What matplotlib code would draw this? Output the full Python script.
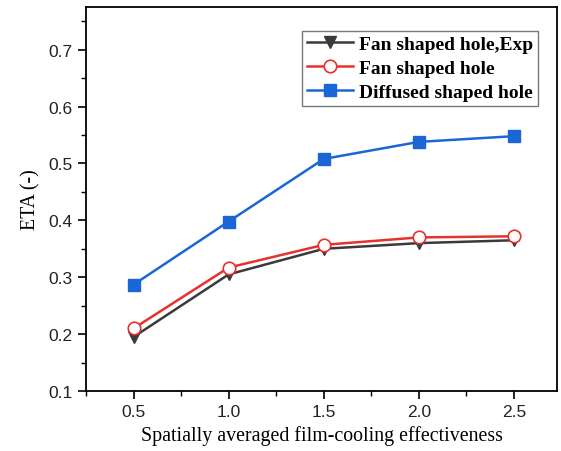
import matplotlib
matplotlib.use("Agg")
import matplotlib.pyplot as plt
from matplotlib.ticker import MultipleLocator

x = [0.5, 1.0, 1.5, 2.0, 2.5]
fan_exp = [0.195, 0.305, 0.350, 0.360, 0.365]
fan = [0.210, 0.317, 0.357, 0.370, 0.372]
diffused = [0.287, 0.398, 0.508, 0.538, 0.548]
labels = ["Fan shaped hole,Exp", "Fan shaped hole", "Diffused shaped hole"]

fig = plt.figure(figsize=(5.61, 4.52), dpi=100)
ax = fig.add_axes([86/561, 1-392/452, (557-86)/561, (392-7.5)/452])

ax.plot(x, fan_exp, color="#3a3a3a", lw=1.8, marker="v", ms=9, mfc="#3a3a3a", mec="#3a3a3a", label=labels[0], zorder=3)
ax.plot(x, fan, color="#e8312f", lw=1.8, marker="o", ms=9, mfc="white", mec="#e8312f", mew=1.2, label=labels[1], zorder=4)
ax.plot(x, diffused, color="#1a66d6", lw=1.8, marker="s", ms=8, mfc="#1a66d6", mec="#1a66d6", label=labels[2], zorder=3)

ax.set_xlim(0.25, 2.726)
ax.set_ylim(0.1, 0.776)
ax.xaxis.set_major_locator(MultipleLocator(0.5))
ax.xaxis.set_minor_locator(MultipleLocator(0.25))
ax.yaxis.set_major_locator(MultipleLocator(0.1))
ax.yaxis.set_minor_locator(MultipleLocator(0.05))
ax.tick_params(which="major", direction="out", length=6, width=1.2, labelsize=12.5, labelcolor="#222222")
ax.tick_params(which="minor", direction="out", length=3.5, width=1.0)
for lab in ax.get_xticklabels() + ax.get_yticklabels():
    lab.set_family("Liberation Sans")
for s in ax.spines.values():
    s.set_linewidth(1.3)

ax.set_xlabel("Spatially averaged film-cooling effectiveness", family="Liberation Serif", fontsize=14.3, labelpad=4)
ax.set_ylabel("ETA (-)", family="Liberation Serif", fontsize=14.3, labelpad=6)

leg = ax.legend(loc="upper right", bbox_to_anchor=(538/561, 1-31.7/452), bbox_transform=fig.transFigure,
                prop={"family": "Liberation Serif", "weight": "bold", "size": 14},
                frameon=True, fancybox=False, edgecolor="#555555", handlelength=2.4,
                borderpad=0.25, labelspacing=0.33, handletextpad=0.3, borderaxespad=0)
leg.get_frame().set_linewidth(1.0)

fig.savefig("out.png", dpi=100)
